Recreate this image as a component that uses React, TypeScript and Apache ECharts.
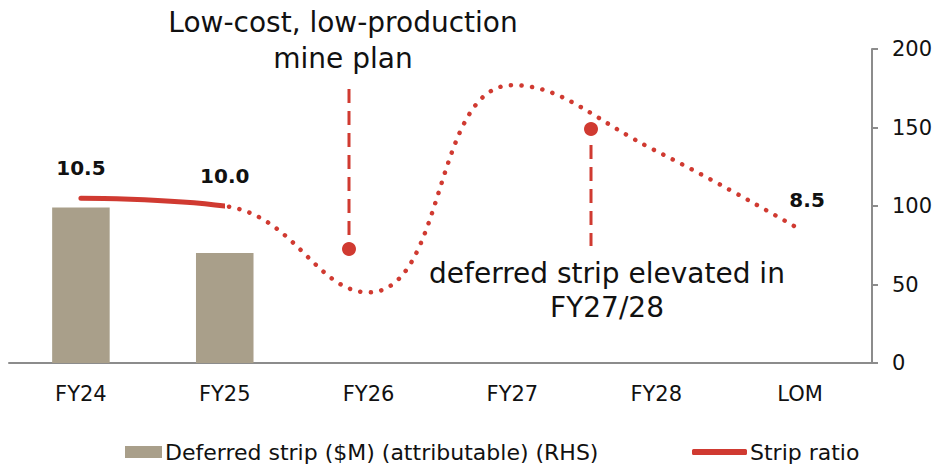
import React, { useEffect, useRef } from "react";
import * as echarts from "echarts";

const categories = ["FY24", "FY25", "FY26", "FY27", "FY28", "LOM"];
const deferredStrip = [99, 70, null, null, null, null];
const stripRatio = [10.5, 10.0, 4.5, 17.7, 13.5, 8.5];
const lastActualIndex = 1;
const labelledIndexes = [0, 1, 5];
const rhsTicks = [0, 50, 100, 150, 200];

const RED = "#D03A31";
const BAR = "#A99F8A";
const GREY = "#8C8C8C";
const FONT = "DejaVu Sans";
const CLEAR = "rgba(208,58,49,0)";
const W = 937;
const H = 465;

export default function App() {
  const ref = useRef<HTMLDivElement>(null);
  useEffect(() => {
    if (!ref.current) return;
    const chart = echarts.init(ref.current, undefined, { renderer: "svg" });
    const lbl = (offsetX: number) => ({
      show: true,
      position: "top",
      distance: 20,
      offset: [offsetX, 0],
      fontFamily: FONT,
      fontWeight: "bold",
      fontSize: 20,
      color: "#111",
      formatter: (p: any) => Number(p.value).toFixed(1),
    });
    const solidData = stripRatio.map((v, i) => ({
      value: v,
      label: labelledIndexes.includes(i) && i <= lastActualIndex ? lbl(0) : { show: false },
    }));
    const dottedData = stripRatio.map((v, i) => ({
      value: v,
      label: labelledIndexes.includes(i) && i > lastActualIndex ? lbl(7) : { show: false },
    }));
    chart.setOption({
      animation: false,
      grid: { left: 9, right: 65, top: 49, bottom: 102 },
      legend: [
        {
          data: [{ name: "Deferred strip ($M) (attributable) (RHS)", icon: "rect" }],
          left: 120,
          top: 436,
          itemWidth: 37,
          itemHeight: 12,
          textStyle: { fontFamily: FONT, fontSize: 22, color: "#111", padding: [0, 0, 0, -2] },
          selectedMode: false,
        },
        {
          data: [{ name: "Strip ratio", icon: "roundRect", itemStyle: { color: RED } }],
          left: 687,
          top: 436,
          itemWidth: 55,
          itemHeight: 6,
          textStyle: { fontFamily: FONT, fontSize: 22, color: "#111", padding: [0, 0, 0, -2] },
          selectedMode: false,
        },
      ],
      xAxis: {
        type: "category",
        data: categories,
        axisLine: { lineStyle: { color: GREY, width: 2 } },
        axisTick: { show: false },
        axisLabel: { fontFamily: FONT, fontSize: 21, color: "#111", margin: 20 },
      },
      yAxis: [
        {
          type: "value",
          position: "right",
          min: rhsTicks[0],
          max: rhsTicks[rhsTicks.length - 1],
          interval: rhsTicks[1] - rhsTicks[0],
          axisLine: { show: true, lineStyle: { color: GREY, width: 2 } },
          axisTick: { show: true, length: 6, lineStyle: { color: GREY, width: 2 } },
          splitLine: { show: false },
          axisLabel: { fontFamily: FONT, fontSize: 21, color: "#111", margin: 20 },
        },
        { type: "value", min: 0, max: 20, show: false, splitLine: { show: false } },
      ],
      series: [
        {
          name: "Deferred strip ($M) (attributable) (RHS)",
          type: "bar",
          yAxisIndex: 0,
          data: deferredStrip,
          barWidth: "40%",
          itemStyle: { color: BAR },
        },
        {
          name: "Strip ratio",
          type: "line",
          yAxisIndex: 1,
          data: solidData,
          smooth: 0.45,
          showSymbol: true,
          symbol: "circle",
          symbolSize: 0,
          lineStyle: { color: RED, width: 5, cap: "round" },
          itemStyle: { color: RED },
          z: 5,
        },
        {
          name: "Strip ratio",
          type: "line",
          yAxisIndex: 1,
          data: dottedData,
          smooth: 0.45,
          showSymbol: true,
          symbol: "circle",
          symbolSize: 0,
          lineStyle: { color: RED, width: 4.5, type: [0.1, 10.5], cap: "round" },
          itemStyle: { color: RED },
          z: 5,
        },
      ],
      graphic: [
        {
          type: "text",
          style: {
            text: "Low-cost, low-production\nmine plan",
            x: 343,
            y: 40,
            align: "center",
            verticalAlign: "middle",
            fontFamily: FONT,
            fontSize: 28,
            lineHeight: 36,
            fill: "#111",
          },
        },
        {
          type: "text",
          style: {
            text: "deferred strip elevated in\nFY27/28",
            x: 607,
            y: 290,
            align: "center",
            verticalAlign: "middle",
            fontFamily: FONT,
            fontSize: 28,
            lineHeight: 34,
            fill: "#111",
          },
        },
        {
          type: "line",
          shape: { x1: 349, y1: 89, x2: 349, y2: 244 },
          style: { stroke: RED, lineWidth: 3, lineDash: [14, 8] },
        },
        { type: "circle", shape: { cx: 349, cy: 249, r: 7 }, style: { fill: RED } },
        {
          type: "line",
          shape: { x1: 591, y1: 145, x2: 591, y2: 246 },
          style: { stroke: RED, lineWidth: 3, lineDash: [14, 8] },
        },
        { type: "circle", shape: { cx: 591, cy: 129, r: 7 }, style: { fill: RED } },
      ],
    });
    const splitX = chart.convertToPixel({ xAxisIndex: 0 }, categories[lastActualIndex]) as number;
    const p = Math.min(Math.max(splitX / W, 0), 1);
    const grad = (before: string, after: string) =>
      new echarts.graphic.LinearGradient(
        0, 0, W, 0,
        [
          { offset: 0, color: before },
          { offset: p, color: before },
          { offset: p, color: after },
          { offset: 1, color: after },
        ],
        true
      );
    chart.setOption({
      series: [
        {},
        { lineStyle: { color: grad(RED, CLEAR) } },
        { lineStyle: { color: grad(CLEAR, RED) } },
      ],
    });
    return () => chart.dispose();
  }, []);
  return <div ref={ref} style={{ width: W, height: H, position: "absolute", left: 0, top: 0 }} />;
}
